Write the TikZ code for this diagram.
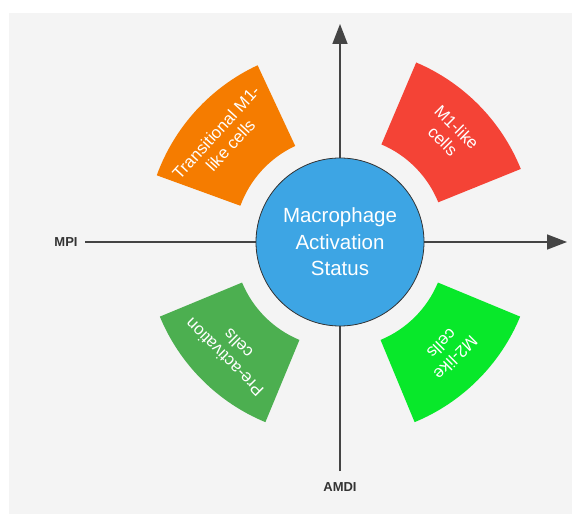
\documentclass[tikz,border=0pt]{standalone}
\usepackage{fontspec}
\setmainfont{Liberation Sans}
\usetikzlibrary{arrows.meta,calc}
\definecolor{bggray}{HTML}{F4F4F4}
\definecolor{axisgray}{HTML}{444444}
\definecolor{labelgray}{HTML}{333333}
\definecolor{cblue}{HTML}{3DA5E4}
\definecolor{corange}{HTML}{F57C00}
\definecolor{cred}{HTML}{F44336}
\definecolor{cdgreen}{HTML}{4CAF50}
\definecolor{cbgreen}{HTML}{08E82A}
\tikzset{
  axisline/.style={draw=axisgray, line width=1.5pt, -{Triangle[length=20pt,width=15pt]}},
  axislabel/.style={font=\fontsize{13}{15}\selectfont\bfseries, text=labelgray},
  sectortext/.style={font=\fontsize{16.8}{19.5}\selectfont, text=white, align=center, inner sep=0pt},
  centerball/.style={circle, minimum size=168pt, fill=cblue, draw=labelgray, line width=0.8pt,
    text=white, align=center, font=\fontsize{20.5}{26.5}\selectfont, inner sep=0pt}
}
\begin{document}
\begin{tikzpicture}[x=1pt,y=1pt]
\useasboundingbox (0,0) rectangle (572,514);
\fill[white] (0,0) rectangle (572,514);
\fill[bggray] (9,0) rectangle (572,501);
\coordinate (C) at (340,272);
% axes
\coordinate (xstart) at (85,272);
\coordinate (xend) at (567,272);
\coordinate (ystart) at (340,43);
\coordinate (yend) at (340,490);
\draw[axisline] (xstart) -- (xend);
\draw[axisline] (ystart) -- (yend);
\node[axislabel] (mpi) at (66,272) {MPI};
\node[axislabel] (amdi) at (340,27) {AMDI};
% sectors
\foreach \a/\col in {22/cred, 115/corange, 202.5/cdgreen, 292.5/cbgreen}{
  \pgfmathsetmacro{\b}{\a+45}
  \fill[\col] ($(C)+(\a:106pt)$) arc[start angle=\a, end angle=\b, radius=106pt]
    -- ($(C)+(\b:195pt)$) arc[start angle=\b, end angle=\a, radius=195pt] -- cycle;
}
\node[sectortext, rotate=-45] (m1) at ($(C)+(44.5:154pt)$) {M1-like\\cells};
\node[sectortext, rotate=47.5] (tm1) at ($(C)+(138.5:156pt)$) {Transitional M1-\\like cells};
\node[sectortext, rotate=135] (pre) at ($(C)+(225:154pt)$) {Pre-activation\\cells};
\node[sectortext, rotate=225] (m2) at ($(C)+(315:154pt)$) {M2-like\\cells};
% center
\node[centerball] (mac) at (C) {Macrophage\\Activation\\Status};
\end{tikzpicture}
\end{document}
